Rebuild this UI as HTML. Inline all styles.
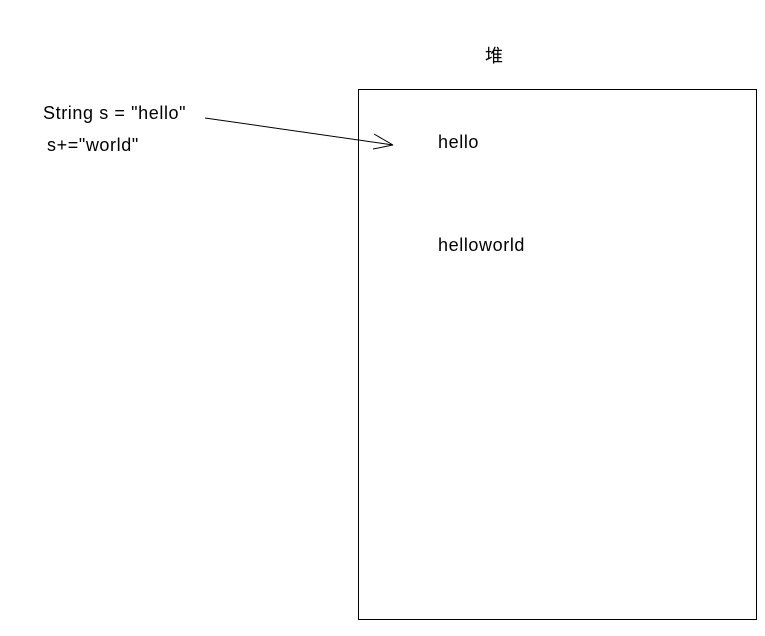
<!DOCTYPE html>
<html><head><meta charset="utf-8"><style>
body{margin:0;width:765px;height:636px;background:#fff;position:relative;overflow:hidden;font-family:"Liberation Sans","Noto Sans CJK SC",sans-serif;color:#000}
.t{position:absolute;font-size:18px;line-height:20px;white-space:pre;letter-spacing:0.6px}
</style></head><body>
<svg width="765" height="636" style="position:absolute;left:0;top:0">
<rect x="358.5" y="89.5" width="398" height="530" fill="none" stroke="#000" stroke-width="1"/>
<line x1="205" y1="118" x2="393" y2="145" stroke="#000" stroke-width="1"/>
<line x1="374" y1="134" x2="393" y2="145" stroke="#000" stroke-width="1"/>
<line x1="373" y1="149" x2="393" y2="145" stroke="#000" stroke-width="1"/>
</svg>
<div class="t" style="left:485px;top:46px">堆</div>
<div class="t" style="left:43px;top:103px">String s = "hello"</div>
<div class="t" style="left:47px;top:135px">s+="world"</div>
<div class="t" style="left:438px;top:132px">hello</div>
<div class="t" style="left:438px;top:235px">helloworld</div>
</body></html>
